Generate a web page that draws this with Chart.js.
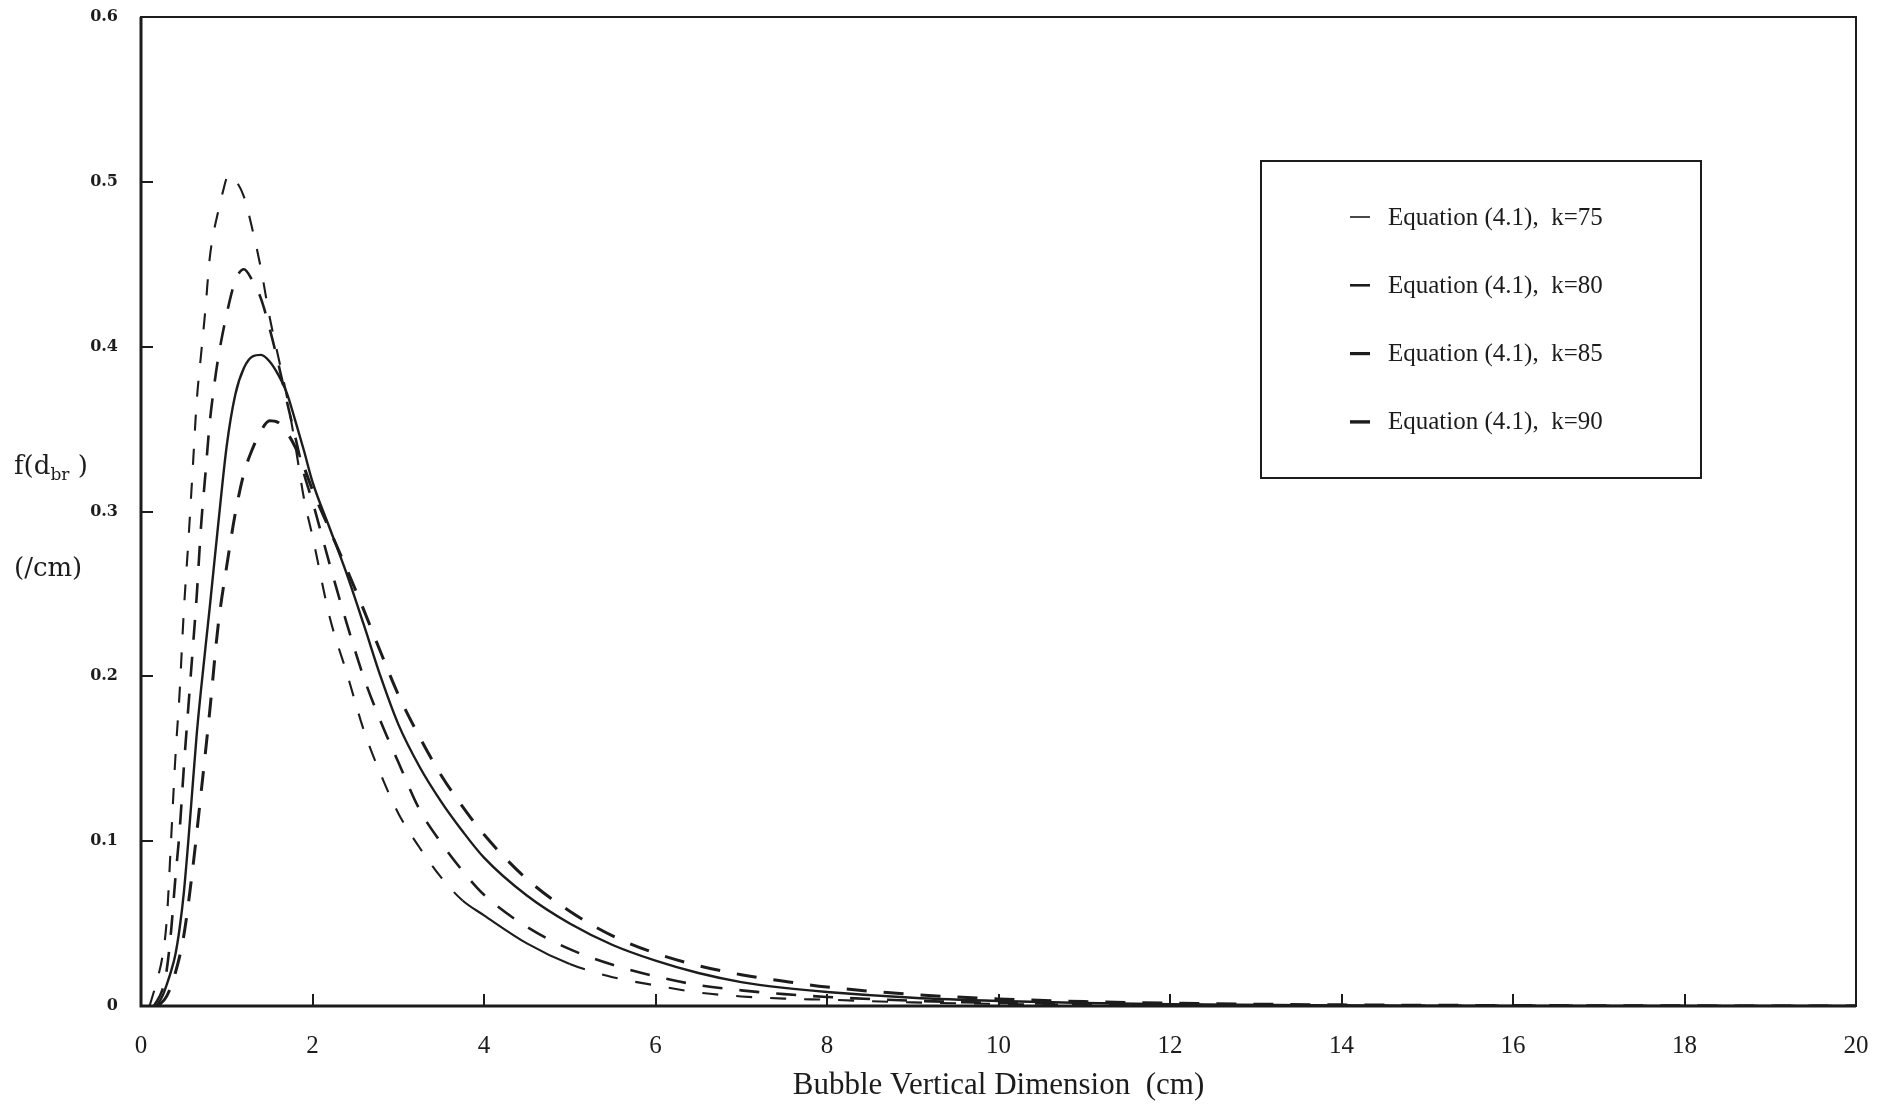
<!DOCTYPE html>
<html>
<head>
<meta charset="utf-8">
<title>Bubble vertical dimension distribution</title>
<script src="https://cdn.jsdelivr.net/npm/chart.js@4.4.1/dist/chart.umd.min.js"></script>
<style>
  html, body { margin: 0; padding: 0; background: #fff; }
  #chart { display: block; }
</style>
</head>
<body>
<canvas id="chart" width="1892" height="1107"></canvas>
<script>
const seriesLabels = ['Equation (4.1),  k=75', 'Equation (4.1),  k=80', 'Equation (4.1),  k=85', 'Equation (4.1),  k=90'];

const k75X = [0.10, 0.20, 0.25, 0.30, 0.35, 0.40, 0.45, 0.50, 0.55, 0.60, 0.65, 0.70, 0.75, 0.80, 0.85, 0.90, 0.95, 1.02, 1.10, 1.20, 1.30, 1.40, 1.50, 1.60, 1.70, 1.80, 1.90, 2.00, 2.20, 2.40, 2.60, 2.80, 3.00, 3.25, 3.50, 3.75, 4.00, 4.50, 5.00, 5.50, 6.00, 6.50, 7.00, 7.50, 8.00, 9, 10, 11, 12, 14, 16, 18, 20];
const k75Y = [0, 0.018, 0.030, 0.052, 0.100, 0.150, 0.190, 0.240, 0.280, 0.323, 0.367, 0.395, 0.422, 0.453, 0.470, 0.482, 0.493, 0.504, 0.501, 0.491, 0.471, 0.447, 0.418, 0.394, 0.370, 0.340, 0.308, 0.285, 0.236, 0.202, 0.167, 0.140, 0.117, 0.096, 0.078, 0.064, 0.055, 0.038, 0.0255, 0.0175, 0.0125, 0.0082, 0.0058, 0.0045, 0.0038, 0.0022, 0.0013, 0.0007, 0.0004, 0.0001, 0, 0, 0];

const k80X = [0.15, 0.25, 0.30, 0.35, 0.40, 0.45, 0.50, 0.55, 0.60, 0.65, 0.70, 0.75, 0.80, 0.85, 0.90, 1.00, 1.10, 1.20, 1.30, 1.40, 1.50, 1.60, 1.70, 1.80, 1.90, 2.00, 2.20, 2.40, 2.60, 2.80, 3.00, 3.25, 3.50, 3.75, 4.00, 4.50, 5.00, 5.50, 6.00, 6.50, 7.00, 7.50, 8.00, 9, 10, 11, 12, 14, 16, 18, 20];
const k80Y = [0, 0.010, 0.022, 0.045, 0.077, 0.106, 0.145, 0.180, 0.214, 0.249, 0.291, 0.322, 0.353, 0.375, 0.393, 0.420, 0.440, 0.447, 0.440, 0.429, 0.411, 0.390, 0.367, 0.345, 0.323, 0.306, 0.268, 0.232, 0.199, 0.172, 0.148, 0.119, 0.099, 0.082, 0.0675, 0.048, 0.0345, 0.025, 0.018, 0.0127, 0.0095, 0.0072, 0.0055, 0.0032, 0.0019, 0.0011, 0.0007, 0.0002, 0.0001, 0, 0];

const k85X = [0.18, 0.25, 0.30, 0.35, 0.40, 0.45, 0.50, 0.55, 0.60, 0.65, 0.70, 0.80, 0.90, 1.00, 1.10, 1.20, 1.30, 1.40, 1.50, 1.60, 1.70, 1.80, 1.90, 2.00, 2.20, 2.40, 2.60, 2.80, 3.00, 3.25, 3.50, 3.75, 4.00, 4.50, 5.00, 5.50, 6.00, 6.50, 7.00, 7.50, 8.00, 9, 10, 11, 12, 14, 16, 18, 20];
const k85Y = [0, 0.006, 0.013, 0.021, 0.031, 0.047, 0.069, 0.099, 0.132, 0.165, 0.192, 0.241, 0.292, 0.340, 0.371, 0.387, 0.394, 0.395, 0.391, 0.383, 0.372, 0.355, 0.337, 0.318, 0.290, 0.262, 0.231, 0.199, 0.171, 0.145, 0.124, 0.106, 0.090, 0.067, 0.050, 0.037, 0.0275, 0.020, 0.0145, 0.011, 0.0085, 0.005, 0.003, 0.0018, 0.0011, 0.0004, 0.0001, 0, 0];

const k90X = [0.20, 0.30, 0.40, 0.50, 0.60, 0.70, 0.80, 0.90, 1.00, 1.10, 1.20, 1.30, 1.40, 1.50, 1.60, 1.70, 1.80, 1.90, 2.00, 2.20, 2.40, 2.60, 2.80, 3.00, 3.25, 3.50, 3.75, 4.00, 4.50, 5.00, 5.50, 6.00, 6.50, 7.00, 7.50, 8.00, 9, 10, 11, 12, 14, 16, 18, 20];
const k90Y = [0, 0.006, 0.020, 0.043, 0.082, 0.129, 0.178, 0.231, 0.267, 0.299, 0.323, 0.338, 0.349, 0.355, 0.354, 0.348, 0.339, 0.327, 0.313, 0.289, 0.265, 0.240, 0.214, 0.189, 0.163, 0.140, 0.121, 0.104, 0.077, 0.0575, 0.0425, 0.032, 0.0245, 0.019, 0.015, 0.0115, 0.007, 0.0043, 0.0027, 0.0017, 0.0007, 0.0003, 0.0001, 0];

const xTicks = [0, 2, 4, 6, 8, 10, 12, 14, 16, 18, 20];
const yTicks = [0, 0.1, 0.2, 0.3, 0.4, 0.5, 0.6];

const ink = '#1c1c1c';

function pts(xs, ys) {
  return xs.map((x, i) => ({ x: x, y: ys[i] }));
}

// frame round the plot, inward tick marks
const framePlugin = {
  id: 'framePlugin',
  afterDraw(chart) {
    const { ctx, chartArea: a } = chart;
    const xs = chart.scales.x, ys = chart.scales.y;
    ctx.save();
    ctx.strokeStyle = ink;
    ctx.lineWidth = 2;
    ctx.strokeRect(a.left, a.top, a.right - a.left, a.bottom - a.top);
    ctx.lineWidth = 3;
    ctx.beginPath();
    ctx.moveTo(a.left, a.top);
    ctx.lineTo(a.left, a.bottom);
    ctx.lineTo(a.right, a.bottom);
    ctx.stroke();
    ctx.lineWidth = 2;
    ctx.beginPath();
    yTicks.slice(1, -1).forEach(v => {
      const y = Math.round(ys.getPixelForValue(v));
      ctx.moveTo(a.left, y);
      ctx.lineTo(a.left + 12, y);
    });
    xTicks.slice(1, -1).forEach(v => {
      const x = Math.round(xs.getPixelForValue(v));
      ctx.moveTo(x, a.bottom);
      ctx.lineTo(x, a.bottom - 12);
    });
    ctx.stroke();
    ctx.restore();
  }
};

// y title: f(d_br) over (/cm)
const yTitlePlugin = {
  id: 'yTitlePlugin',
  afterDraw(chart) {
    const ctx = chart.ctx;
    ctx.save();
    ctx.fillStyle = ink;
    ctx.textBaseline = 'alphabetic';
    ctx.textAlign = 'left';
    let x = 14;
    const base = 474;
    ctx.font = '26px "DejaVu Serif"';
    ctx.fillText('f(d', x, base);
    x += ctx.measureText('f(d').width;
    ctx.font = '17px "DejaVu Serif"';
    ctx.fillText('br', x, base + 6);
    x += ctx.measureText('br').width;
    ctx.font = '26px "DejaVu Serif"';
    ctx.fillText(' )', x, base);
    ctx.fillText('(/cm)', 14, 576);
    ctx.restore();
  }
};

// boxed legend inside the plot
const sampleWidths = [1.6, 2.6, 3.2, 3.4];
const legendPlugin = {
  id: 'legendPlugin',
  afterDatasetsDraw(chart) {
    const ctx = chart.ctx;
    const bx = 1261, by = 161, bw = 440, bh = 317;
    ctx.save();
    ctx.fillStyle = '#fff';
    ctx.fillRect(bx, by, bw, bh);
    ctx.strokeStyle = ink;
    ctx.lineWidth = 2;
    ctx.strokeRect(bx, by, bw, bh);
    chart.data.datasets.forEach((ds, i) => {
      const y = 217 + i * 68.3;
      ctx.lineWidth = sampleWidths[i];
      ctx.setLineDash([]);
      ctx.beginPath();
      ctx.moveTo(1350, y);
      ctx.lineTo(1370, y);
      ctx.stroke();
      ctx.fillStyle = ink;
      ctx.font = '25px "Liberation Serif"';
      ctx.textBaseline = 'middle';
      ctx.fillText(ds.label, 1388, y + 1);
    });
    ctx.restore();
  }
};

// k=75 is drawn as an unbroken trace between about 3.8 and 4.9 cm
const k75Segment = {
  borderDash: c => (c.p0.parsed.x >= 3.75 && c.p1.parsed.x <= 5.0) ? [] : undefined
};

const ctx = document.getElementById('chart').getContext('2d');
new Chart(ctx, {
  type: 'scatter',
  data: {
    datasets: [
      { label: seriesLabels[0], data: pts(k75X, k75Y), borderColor: ink, borderWidth: 2.1, borderDash: [16, 18], segment: k75Segment },
      { label: seriesLabels[1], data: pts(k80X, k80Y), borderColor: ink, borderWidth: 2.6, borderDash: [20, 17] },
      { label: seriesLabels[2], data: pts(k85X, k85Y), borderColor: ink, borderWidth: 2.4 },
      { label: seriesLabels[3], data: pts(k90X, k90Y), borderColor: ink, borderWidth: 3, borderDash: [20, 17] }
    ].map(ds => Object.assign(ds, {
      showLine: true,
      pointRadius: 0,
      fill: false,
      cubicInterpolationMode: 'monotone'
    }))
  },
  options: {
    responsive: false,
    animation: false,
    layout: { padding: { top: 17, right: 36, left: 0, bottom: 0 } },
    plugins: {
      legend: { display: false },
      tooltip: { enabled: false }
    },
    scales: {
      x: {
        type: 'linear',
        min: 0,
        max: 20,
        afterBuildTicks: s => { s.ticks = xTicks.map(v => ({ value: v })); },
        afterFit: s => { s.height = 101; s.paddingLeft = 0; s.paddingRight = 0; },
        grid: { display: false, drawTicks: false },
        border: { display: false },
        ticks: {
          padding: 25,
          color: ink,
          maxRotation: 0,
          font: { family: 'Liberation Serif', size: 25 }
        },
        title: {
          display: true,
          text: 'Bubble Vertical Dimension  (cm)',
          color: ink,
          font: { family: 'Liberation Serif', size: 31 },
          padding: { top: 0, bottom: 3 }
        }
      },
      y: {
        min: 0,
        max: 0.6,
        afterBuildTicks: s => { s.ticks = yTicks.map(v => ({ value: v })); },
        afterFit: s => { s.width = 141; s.paddingTop = 0; s.paddingBottom = 0; },
        grid: { display: false, drawTicks: false },
        border: { display: false },
        ticks: {
          padding: 23,
          color: ink,
          callback: v => String(Math.round(v * 10) / 10),
          font: { family: 'DejaVu Serif', size: 16, weight: 'bold' }
        }
      }
    }
  },
  plugins: [framePlugin, yTitlePlugin, legendPlugin]
});
</script>
</body>
</html>
